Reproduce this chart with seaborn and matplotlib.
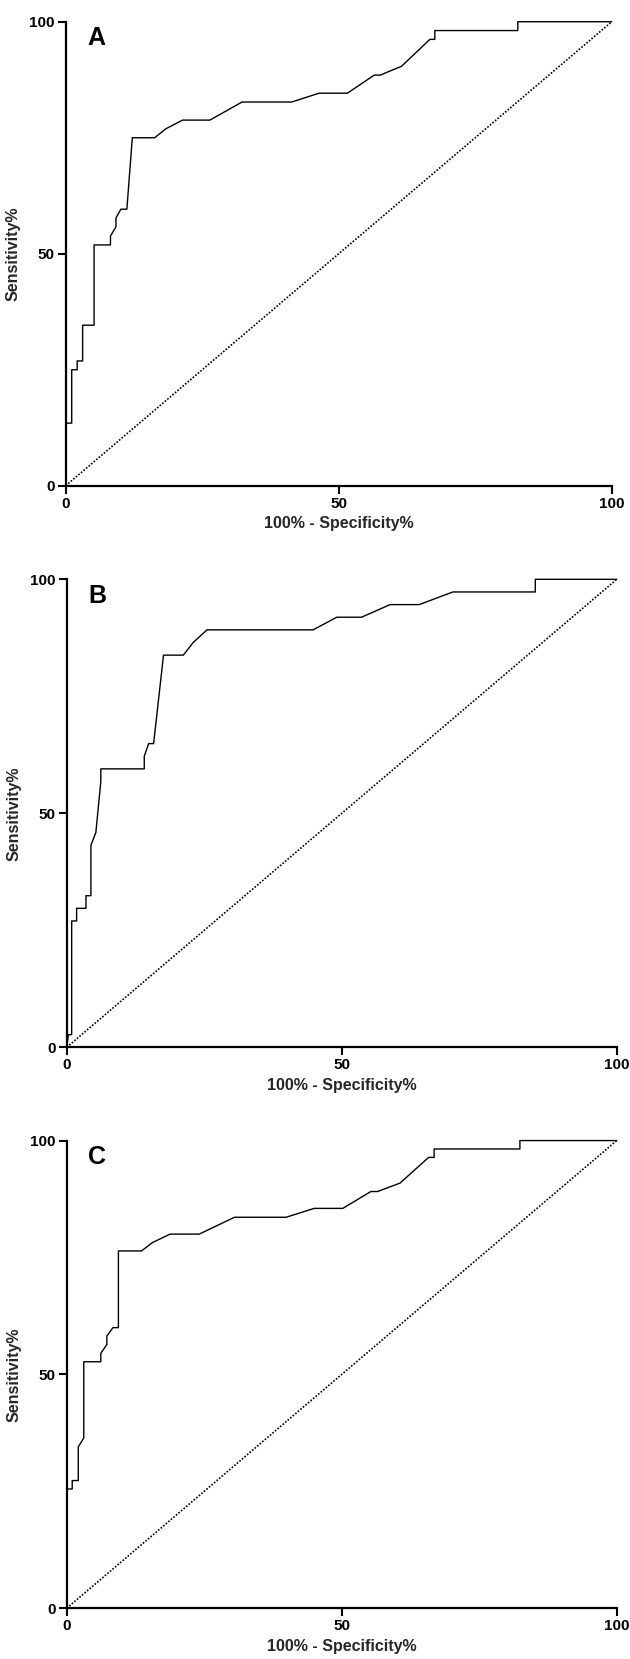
import matplotlib
matplotlib.use("Agg")
import matplotlib.pyplot as plt
import seaborn as sns
import pandas as pd

# Panel A ROC curve (100% - Specificity%, Sensitivity%)
a_fpr = [0, 0, 1.1, 1.1, 2.1, 2.1, 3.1, 3.1, 5.2, 5.2, 8.2, 8.2, 9.2, 9.2, 10.1, 11.2, 12.2,
         16.3, 18.3, 21.4, 26.4, 32.3, 41.4, 46.4, 51.6, 56.5, 57.6, 61.5, 66.7, 67.6, 67.6,
         82.8, 82.8, 100]
a_sens = [0, 13.5, 13.5, 25.0, 25.0, 26.9, 26.9, 34.6, 34.6, 51.9, 51.9, 53.8, 55.8, 57.7, 59.6,
          59.6, 75.0, 75.0, 76.9, 78.8, 78.8, 82.7, 82.7, 84.6, 84.6, 88.5, 88.5, 90.4, 96.2,
          96.2, 98.1, 98.1, 100, 100]

# Panel B ROC curve
b_fpr = [0, 0.3, 0.9, 0.9, 1.8, 1.8, 3.5, 3.5, 4.4, 4.4, 5.3, 6.2, 6.2, 14.1, 14.1, 14.9, 15.8,
         17.6, 21.2, 23.0, 25.5, 44.8, 49.1, 53.6, 58.8, 64.1, 70.2, 85.2, 85.2, 100]
b_sens = [0, 2.7, 2.7, 27.0, 27.0, 29.7, 29.7, 32.4, 32.4, 43.2, 45.9, 56.8, 59.5, 59.5, 62.2,
          64.9, 64.9, 83.8, 83.8, 86.5, 89.2, 89.2, 91.9, 91.9, 94.6, 94.6, 97.3, 97.3, 100, 100]

# Panel C ROC curve
c_fpr = [0, 0, 1.0, 1.0, 2.1, 2.1, 3.1, 3.1, 6.2, 6.2, 7.3, 7.3, 8.4, 9.4, 9.4, 13.6, 15.6,
         18.8, 24.1, 30.5, 39.9, 45.0, 50.2, 55.3, 56.5, 60.6, 65.8, 66.8, 66.8, 82.4, 82.4, 100]
c_sens = [0, 25.5, 25.5, 27.3, 27.3, 34.5, 36.4, 52.7, 52.7, 54.5, 56.4, 58.2, 60.0, 60.0, 76.4,
          76.4, 78.2, 80.0, 80.0, 83.6, 83.6, 85.5, 85.5, 89.1, 89.1, 90.9, 96.4, 96.4, 98.2,
          98.2, 100, 100]

ref_line = [0, 100]
panel_labels = ["A", "B", "C"]
ticks = [0, 50, 100]
tick_labels = ["0", "50", "100"]
xlabel = "100% - Specificity%"
ylabel = "Sensitivity%"

sns.set_theme(style="ticks")
plt.rcParams["font.family"] = ["Liberation Sans", "DejaVu Sans"]
plt.rcParams["font.weight"] = "bold"

fig = plt.figure(figsize=(6.3, 16.59), dpi=100)
positions = [
    [0.1043, 0.7072, 0.8667, 0.2797],
    [0.1059, 0.3687, 0.8730, 0.2821],
    [0.1059, 0.0306, 0.8730, 0.2819],
]
curves = [(a_fpr, a_sens), (b_fpr, b_sens), (c_fpr, c_sens)]

for pos, (fx, sy), lab in zip(positions, curves, panel_labels):
    ax = fig.add_axes(pos)
    df = pd.DataFrame({"fpr": fx, "sens": sy})
    sns.lineplot(data=df, x="fpr", y="sens", sort=False, estimator=None, ax=ax,
                 color="black", linewidth=1.0, clip_on=False)
    sns.lineplot(x=ref_line, y=ref_line, ax=ax, color="black", linewidth=1.2,
                 linestyle=(0, (1, 1)), clip_on=False)
    ax.set_xlim(0, 100)
    ax.set_ylim(0, 100)
    ax.set_xticks(ticks)
    ax.set_xticklabels(tick_labels, fontweight="bold")
    ax.set_yticks(ticks)
    ax.set_yticklabels(tick_labels, fontweight="bold")
    ax.tick_params(axis="both", length=6, width=1.5, labelsize=11, pad=2, color="black",
                   labelcolor="black")
    for s in ["top", "right"]:
        ax.spines[s].set_visible(False)
    for s in ["left", "bottom"]:
        ax.spines[s].set_linewidth(1.6)
        ax.spines[s].set_color("black")
    ax.set_xlabel(xlabel, fontsize=11.5, fontweight="bold", labelpad=4)
    ax.set_ylabel(ylabel, fontsize=11.5, fontweight="bold", labelpad=6)
    ax.text(0.039, 0.99, lab, transform=ax.transAxes, ha="left", va="top",
            fontsize=18, fontweight="bold", color="black")
    ax.set_facecolor("white")

fig.savefig("out.png", dpi=100, facecolor="white")
